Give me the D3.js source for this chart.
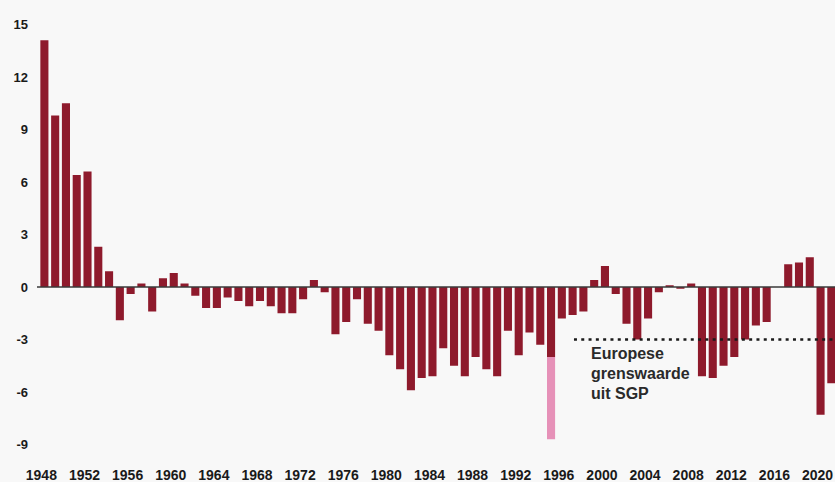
<!DOCTYPE html>
<html>
<head>
<meta charset="utf-8">
<script src="https://cdn.jsdelivr.net/npm/d3@7"></script>
<style>
  body { margin: 0; background: #f8f8f8; }
  svg { display: block; font-family: "Liberation Sans", Arial, sans-serif; }
</style>
</head>
<body>
<div id="chart"></div>
<script>
// begrotingssaldo in % bbp, 1948-2021
const years = d3.range(1948, 2022);
const balance = [
  14.1, 9.8, 10.5, 6.4, 6.6, 2.3, 0.9, -1.9, -0.4, 0.2,
  -1.4, 0.5, 0.8, 0.2, -0.5, -1.2, -1.2, -0.6, -0.8, -1.1,
  -0.8, -1.1, -1.5, -1.5, -0.7, 0.4, -0.3, -2.7, -2.0, -0.7,
  -2.1, -2.5, -3.9, -4.7, -5.9, -5.2, -5.1, -3.5, -4.5, -5.1,
  -4.0, -4.7, -5.1, -2.5, -3.9, -2.6, -3.3, -4.0, -1.8, -1.6,
  -1.4, 0.4, 1.2, -0.4, -2.1, -3.0, -1.8, -0.3, 0.1, -0.1,
  0.2, -5.1, -5.2, -4.5, -4.0, -3.0, -2.2, -2.0, 0.0, 1.3,
  1.4, 1.7, -7.3, -5.5
];
// eenmalig effect (roze deel)
const oneOffYears = [1995];
const oneOffValues = [-4.7];
const yTicks = [15, 12, 9, 6, 3, 0, -3, -6, -9];
const xTickYears = d3.range(1948, 2021, 4);
const euLimit = -3;
const euLimitFrom = 1997.5;
const euLabel = ["Europese", "grenswaarde", "uit SGP"];

const width = 835, height = 482;

const svg = d3.select("#chart").append("svg")
  .attr("width", width)
  .attr("height", height);

const x = d3.scaleBand().domain(years).range([39, 39 + 74 * 10.78]).paddingInner(0.25).paddingOuter(0.125);
const y = d3.scaleLinear().domain([-9, 15]).range([444.5, 24.5]);

const data = years.map((yr, i) => ({ year: yr, value: balance[i] }));

svg.selectAll(".bar")
  .data(data)
  .enter()
  .append("rect")
  .attr("class", "bar")
  .attr("x", d => x(d.year))
  .attr("width", x.bandwidth())
  .attr("y", d => y(Math.max(0, d.value)))
  .attr("height", d => Math.abs(y(d.value) - y(0)))
  .attr("fill", "#8e1a2c");

const extra = oneOffYears.map((yr, i) => ({ year: yr, base: balance[years.indexOf(yr)], value: oneOffValues[i] }));
svg.selectAll(".extra")
  .data(extra)
  .enter()
  .append("rect")
  .attr("x", d => x(d.year))
  .attr("width", x.bandwidth())
  .attr("y", d => y(d.base))
  .attr("height", d => y(d.base + d.value) - y(d.base))
  .attr("fill", "#e691b8");

// nullijn
svg.append("line")
  .attr("x1", 37).attr("x2", width)
  .attr("y1", y(0)).attr("y2", y(0))
  .attr("stroke", "#3a3a3a")
  .attr("stroke-width", 1.6);

// y-as labels
svg.selectAll(".ylab")
  .data(yTicks)
  .enter()
  .append("text")
  .attr("x", 28)
  .attr("y", d => y(d))
  .attr("dy", "0.35em")
  .attr("text-anchor", "end")
  .style("font-size", "13px")
  .style("font-weight", "bold")
  .attr("fill", "#1a1a1a")
  .text(d => d < 0 ? "-" + Math.abs(d) : d);

// x-as labels
svg.selectAll(".xlab")
  .data(xTickYears)
  .enter()
  .append("text")
  .attr("x", d => x(d) + x.bandwidth() / 2 - 3)
  .attr("y", 480)
  .attr("text-anchor", "middle")
  .style("font-size", "14px")
  .style("font-weight", "bold")
  .attr("fill", "#1a1a1a")
  .text(d => d);

// Europese grenswaarde
const xStep = x.step();
svg.append("line")
  .attr("x1", x(1997) + (euLimitFrom - 1997) * xStep)
  .attr("x2", width)
  .attr("y1", y(euLimit)).attr("y2", y(euLimit))
  .attr("stroke", "#1a1a1a")
  .attr("stroke-width", 2.5)
  .attr("stroke-dasharray", "3,4.3");

svg.append("text")
  .attr("x", 591)
  .attr("y", 359)
  .style("font-size", "16px")
  .style("font-weight", "bold")
  .attr("fill", "#2a2a2a")
  .selectAll("tspan")
  .data(euLabel)
  .enter()
  .append("tspan")
  .attr("x", 591)
  .attr("dy", (d, i) => i === 0 ? 0 : 20)
  .text(d => d);
</script>
</body>
</html>
